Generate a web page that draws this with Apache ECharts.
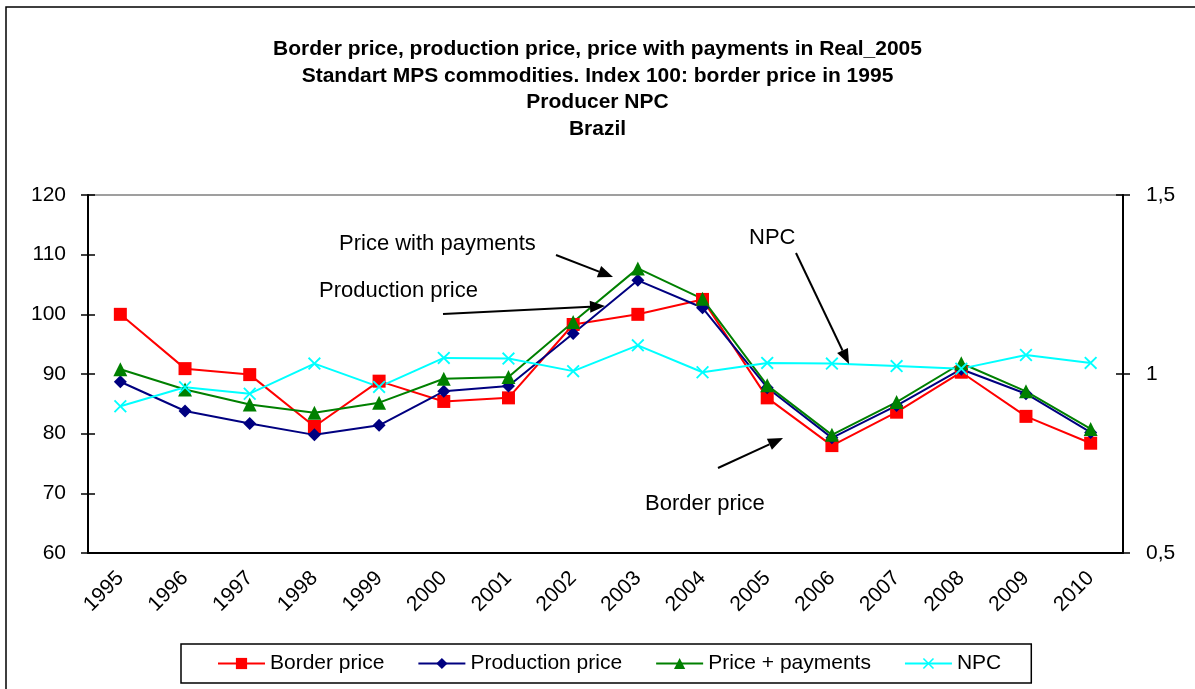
<!DOCTYPE html>
<html>
<head>
<meta charset="utf-8">
<script src="https://cdn.jsdelivr.net/npm/echarts@6/dist/echarts.min.js"></script>
<style>
  html, body { margin: 0; padding: 0; background: #fff; }
  #chart { width: 1195px; height: 689px; }
</style>
</head>
<body>
<div id="chart"></div>
<script>
var years = ['1995','1996','1997','1998','1999','2000','2001','2002','2003','2004','2005','2006','2007','2008','2009','2010']
var borderPrice = [100, 90.9, 89.9, 81.2, 88.8, 85.4, 86.0, 98.3, 100.0, 102.5, 86.0, 78.0, 83.6, 90.3, 82.9, 78.4]
var productionPrice = [88.7, 83.8, 81.7, 79.8, 81.4, 87.1, 88.0, 96.8, 105.7, 101.1, 87.7, 79.3, 84.7, 90.8, 86.7, 80.2]
var pricePayments = [90.8, 87.4, 84.9, 83.5, 85.2, 89.2, 89.5, 98.7, 107.7, 102.6, 88.1, 79.8, 85.3, 91.8, 87.1, 80.8]
var npc = [0.910, 0.963, 0.945, 1.029, 0.964, 1.045, 1.043, 1.008, 1.080, 1.005, 1.031, 1.029, 1.022, 1.015, 1.053, 1.031]
var titleLines = ['Border price, production price, price with payments in Real_2005',
    'Standart MPS commodities. Index 100: border price in 1995', 'Producer NPC', 'Brazil']

var font = "'Liberation Sans', Arial, sans-serif"
var chart = echarts.init(document.getElementById('chart'))

// little helper for the annotation arrows
function arrow(x1, y1, x2, y2) {
    var dx = x2 - x1, dy = y2 - y1
    var len = Math.sqrt(dx * dx + dy * dy)
    var ux = dx / len, uy = dy / len
    var hl = 15, hw = 6
    var bx = x2 - ux * hl, by = y2 - uy * hl
    return [
        { type: 'line', shape: { x1: x1, y1: y1, x2: bx, y2: by }, style: { stroke: '#000', lineWidth: 2 }, z: 100 },
        { type: 'polygon', shape: { points: [[x2, y2], [bx - uy * hw, by + ux * hw], [bx + uy * hw, by - ux * hw]] },
          style: { fill: '#000' }, z: 100 }
    ]
}
function note(text, x, y) {
    return { type: 'text', left: x, top: y, z: 100,
        style: { text: text, font: '22px ' + font, fill: '#000', textVerticalAlign: 'middle' } }
}

var graphics = [
    { type: 'rect', shape: { x: 6, y: 7, width: 1300, height: 800 }, style: { fill: 'none', stroke: '#000', lineWidth: 1.5 }, z: 0 },
    note('Price with payments', 339, 233),
    note('Production price', 319, 280),
    note('NPC', 749, 227),
    note('Border price', 645, 493)
]
graphics = graphics.concat(arrow(556, 255, 613, 277))
graphics = graphics.concat(arrow(443, 314, 605, 306))
graphics = graphics.concat(arrow(796, 253, 849, 364))
graphics = graphics.concat(arrow(718, 468, 783, 438))

var crossSymbol = 'path://M0,1L1,0L5,4L9,0L10,1L6,5L10,9L9,10L5,6L1,10L0,9L4,5Z'
var axisFont = { fontFamily: font, fontSize: 21, color: '#000' }

chart.setOption({
    animation: false,
    title: {
        text: titleLines.join('\n'),
        left: 'center',
        top: 31,
        textStyle: { fontFamily: font, fontSize: 21, fontWeight: 'bold', color: '#000', lineHeight: 26.5 }
    },
    legend: {
        left: 181,
        top: 644,
        padding: [9, 30, 9, 36],
        itemWidth: 47,
        itemHeight: 14,
        itemGap: 33,
        borderColor: '#000',
        borderWidth: 1.5,
        textStyle: { fontFamily: font, fontSize: 21, color: '#000' },
        data: ['Border price', 'Production price', 'Price + payments', 'NPC']
    },
    grid: {
        left: 88, right: 72, top: 195, bottom: 136,
        show: true, borderColor: '#808080', borderWidth: 1.5
    },
    xAxis: [{
        type: 'category',
        data: years,
        axisLine: { lineStyle: { color: '#000', width: 2 } },
        axisTick: { length: 7, lineStyle: { color: '#000', width: 1.5 } },
        axisLabel: Object.assign({ rotate: 45, margin: 22, interval: 0 }, axisFont),
        splitLine: { show: false }
    }, {
        // second axis only to draw the inner half of the ticks
        type: 'category',
        data: years,
        position: 'bottom',
        axisLine: { show: false },
        axisTick: { inside: true, length: 7, lineStyle: { color: '#000', width: 1.5 } },
        axisLabel: { show: false }
    }],
    yAxis: [{
        type: 'value',
        min: 60, max: 120, interval: 10,
        axisLine: { show: true, lineStyle: { color: '#000', width: 2 } },
        axisTick: { show: true, length: 7, lineStyle: { color: '#000', width: 1.5 } },
        axisLabel: Object.assign({ margin: 22 }, axisFont),
        splitLine: { show: false }
    }, {
        type: 'value',
        min: 0.5, max: 1.5, interval: 0.5,
        position: 'right',
        axisLine: { show: true, lineStyle: { color: '#000', width: 2 } },
        axisTick: { show: true, length: 7, lineStyle: { color: '#000', width: 1.5 } },
        axisLabel: Object.assign({ margin: 23, formatter: function (v) { return String(v).replace('.', ',') } }, axisFont),
        splitLine: { show: false }
    }, {
        type: 'value',
        min: 60, max: 120, interval: 10,
        position: 'left',
        axisLine: { show: false },
        axisTick: { show: true, inside: true, length: 7, lineStyle: { color: '#000', width: 1.5 } },
        axisLabel: { show: false },
        splitLine: { show: false }
    }, {
        type: 'value',
        min: 0.5, max: 1.5, interval: 0.5,
        position: 'right',
        axisLine: { show: false },
        axisTick: { show: true, inside: true, length: 7, lineStyle: { color: '#000', width: 1.5 } },
        axisLabel: { show: false },
        splitLine: { show: false }
    }],
    series: [
        {
            name: 'Border price', type: 'line', data: borderPrice,
            symbol: 'rect', symbolSize: 13,
            lineStyle: { color: '#ff0000', width: 2 }, itemStyle: { color: '#ff0000' }
        },
        {
            name: 'Production price', type: 'line', data: productionPrice,
            symbol: 'diamond', symbolSize: 13,
            lineStyle: { color: '#000080', width: 2 }, itemStyle: { color: '#000080' }
        },
        {
            name: 'Price + payments', type: 'line', data: pricePayments,
            symbol: 'triangle', symbolSize: 14,
            lineStyle: { color: '#008000', width: 2 }, itemStyle: { color: '#008000' }
        },
        {
            name: 'NPC', type: 'line', data: npc, yAxisIndex: 1,
            symbol: crossSymbol, symbolSize: 13,
            lineStyle: { color: '#00ffff', width: 2 }, itemStyle: { color: '#00ffff' }
        }
    ],
    graphic: graphics
})
</script>
</body>
</html>
